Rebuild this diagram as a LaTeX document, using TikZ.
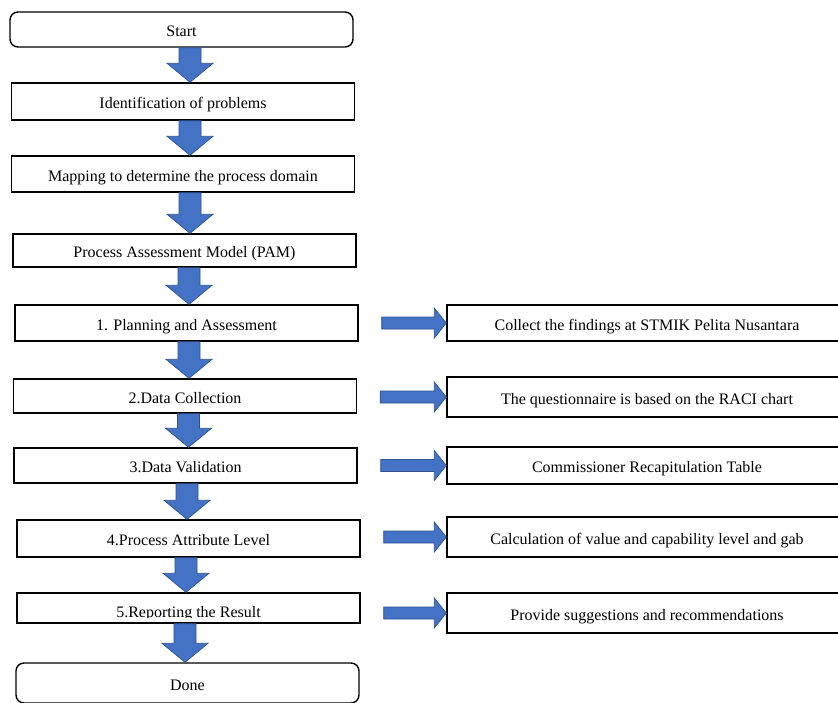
\documentclass[tikz,border=0pt]{standalone}
\usepackage{fontspec}
\setmainfont{Liberation Serif}
\usetikzlibrary{calc}
\definecolor{ablue}{HTML}{4472C4}
\definecolor{aedge}{HTML}{2F528F}
\tikzset{
  box/.style={draw=black, line width=1.4pt, fill=white, inner sep=0pt,
    text height=14pt, text depth=0pt, font=\fontsize{16}{19}\selectfont},
  endbox/.style={box, rounded corners=8pt},
  lbox/.style={box, minimum width=343pt},
  sidebox/.style={box, minimum width=400pt},
  arrowfill/.style={fill=ablue, draw=aedge, line width=0.7pt, line join=miter},
}
\newcommand\blockdown[3]{%
  \path[arrowfill] let \p1=(#1.south -| #3), \p2=(#2.north -| #3) in
  (\x1-11pt,\y1) -- (\x1+11pt,\y1) -- (\x1+11pt,\y2+19pt) -- (\x1+23pt,\y2+19pt)
  -- (\x1,\y2) -- (\x1-23pt,\y2+19pt) -- (\x1-11pt,\y2+19pt) -- cycle;}
\newcommand\blockright[2]{%
  \path[arrowfill] let \p1=(#1.east |- #2.west), \p2=(#2.west) in
  (\x1+23pt,\y2+6pt) -- (\x2-12pt,\y2+6pt) -- (\x2-12pt,\y2+15pt) -- (\x2,\y2)
  -- (\x2-12pt,\y2-15pt) -- (\x2-12pt,\y2-6pt) -- (\x1+23pt,\y2-6pt) -- cycle;}
\begin{document}
\begin{tikzpicture}[x=1pt,y=-1pt]
\useasboundingbox (0,0) rectangle (838,702);
\clip (0,0) rectangle (838,702);
\fill[white] (0,0) rectangle (838,702);
% left column
\node[endbox, minimum width=343pt, minimum height=35pt] (start) at (181.5,29.5) {Start};
\node[lbox, minimum height=37pt] (ident) at (183,101.5) {Identification of problems};
\node[lbox, minimum height=36pt] (map) at (183,174) {Mapping to determine the process domain};
\node[lbox, minimum height=33pt] (pam) at (184.5,250.5) {Process Assessment Model (PAM)};
\node[lbox, minimum height=36pt] (plan) at (186.5,323) {1. Planning and Assessment};
\node[lbox, minimum height=34pt] (coll) at (185,396) {2.Data Collection};
\node[lbox, minimum height=35pt] (val) at (185.5,465.5) {3.Data Validation};
\node[lbox, minimum height=37pt] (attr) at (188.5,538.5) {4.Process Attribute Level};
\node[lbox, minimum height=30pt] (rep) at (188.5,608) {};
\begin{scope}
  \clip (18,594) rectangle (359,617.8);
  \node[box, draw=none, fill=none] (reptext) at (188.5,610.3) {5.Reporting the Result};
\end{scope}
\node[endbox, minimum width=343pt, minimum height=40pt] (done) at (187.5,683) {Done};
% right column
\node[sidebox, minimum height=36pt] (r1) at (647,323) {Collect the findings at STMIK Pelita Nusantara};
\node[sidebox, minimum height=40pt] (r2) at (647,397) {The questionnaire is based on the RACI chart};
\node[sidebox, minimum height=37pt] (r3) at (647,465.5) {Commissioner Recapitulation Table};
\node[sidebox, minimum height=40pt] (r4) at (647,537) {Calculation of value and capability level and gab};
\node[sidebox, minimum height=40pt] (r5) at (647,613) {Provide suggestions and recommendations};
% arrow axes
\coordinate (a1) at (190,0);
\coordinate (a2) at (190,0);
\coordinate (a3) at (190,0);
\coordinate (a4) at (189,0);
\coordinate (a5) at (189,0);
\coordinate (a6) at (188.5,0);
\coordinate (a7) at (187,0);
\coordinate (a8) at (186,0);
\coordinate (a9) at (185,0);
\blockdown{start}{ident}{a1}
\blockdown{ident}{map}{a2}
\blockdown{map}{pam}{a3}
\blockdown{pam}{plan}{a4}
\blockdown{plan}{coll}{a5}
\blockdown{coll}{val}{a6}
\blockdown{val}{attr}{a7}
\blockdown{attr}{rep}{a8}
\blockdown{rep}{done}{a9}
\blockright{plan}{r1}
\blockright{coll}{r2}
\blockright{val}{r3}
\blockright{attr}{r4}
\blockright{rep}{r5}
\end{tikzpicture}
\end{document}
